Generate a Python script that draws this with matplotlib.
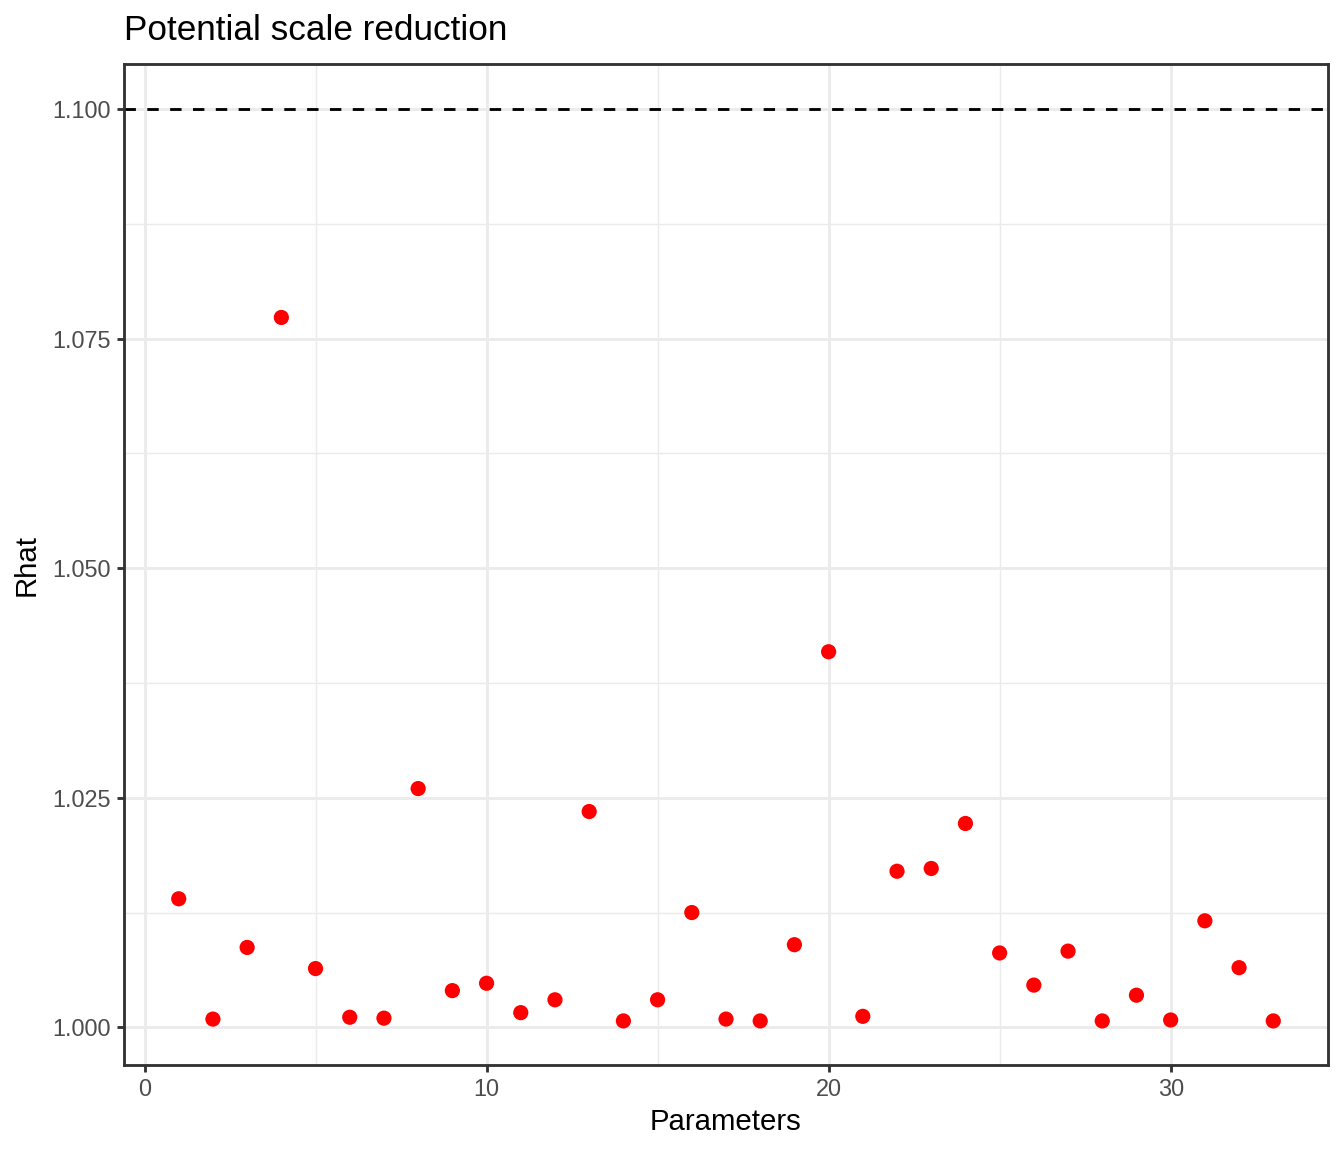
import matplotlib
matplotlib.use("Agg")
import matplotlib.pyplot as plt
import numpy as np
from matplotlib.ticker import FixedLocator, FormatStrFormatter

plt.rcParams['font.family'] = ['Liberation Sans', 'DejaVu Sans']

params = list(range(1, 34))
rhat = [1.0140, 1.0009, 1.0087, 1.0773, 1.0064, 1.0011, 1.0010, 1.0260, 1.0040, 1.0048,
        1.0016, 1.0030, 1.0235, 1.0007, 1.0030, 1.0125, 1.0009, 1.0007, 1.0090, 1.0409,
        1.0012, 1.0170, 1.0173, 1.0222, 1.0081, 1.0046, 1.0083, 1.0007, 1.0035, 1.0008,
        1.0116, 1.0065, 1.0007]
threshold = 1.1
x_major = [0, 10, 20, 30]
x_minor = [5, 15, 25]
y_major = [1.000, 1.025, 1.050, 1.075, 1.100]
y_minor = [1.0125, 1.0375, 1.0625, 1.0875]
y_limits = (0.99590, 1.10490)

fig = plt.figure(figsize=(7, 6), dpi=192)
ax = fig.add_axes([124/1344, 1 - 1065/1152, (1328-124)/1344, (1065-64)/1152])

grid_col = '#EBEBEB'
for v in x_major:
    ax.axvline(v, color=grid_col, lw=1.07, zorder=0)
for v in x_minor:
    ax.axvline(v, color=grid_col, lw=0.53, zorder=0)
for v in y_major:
    ax.axhline(v, color=grid_col, lw=1.07, zorder=0)
for v in y_minor:
    ax.axhline(v, color=grid_col, lw=0.53, zorder=0)

ax.axhline(threshold, color='black', lw=1.07, linestyle=(0, (4, 4)), zorder=2)
ax.scatter(params, rhat, s=5.7**2, color='#FF0000', edgecolors='none', zorder=3)

xr = max(params) - min(params)
ax.set_xlim(min(params) - 0.05 * xr, max(params) + 0.05 * xr)
ax.set_ylim(*y_limits)

ax.xaxis.set_major_locator(FixedLocator(x_major))
ax.yaxis.set_major_locator(FixedLocator(y_major))
ax.yaxis.set_major_formatter(FormatStrFormatter('%.3f'))
ax.tick_params(axis='both', length=2.75, width=1.07, color='#333333',
               labelsize=8.8, labelcolor='#4D4D4D', pad=2.2)
for s in ax.spines.values():
    s.set_color('#333333')
    s.set_linewidth(1.07)

ax.set_xlabel('Parameters', fontsize=11, labelpad=2.5)
ax.set_ylabel('Rhat', fontsize=11, labelpad=4.4)
fig.text(124/1344, 1 - 30/1152, 'Potential scale reduction', fontsize=13.2,
         ha='left', va='center')

fig.savefig('out.png', dpi=192)
